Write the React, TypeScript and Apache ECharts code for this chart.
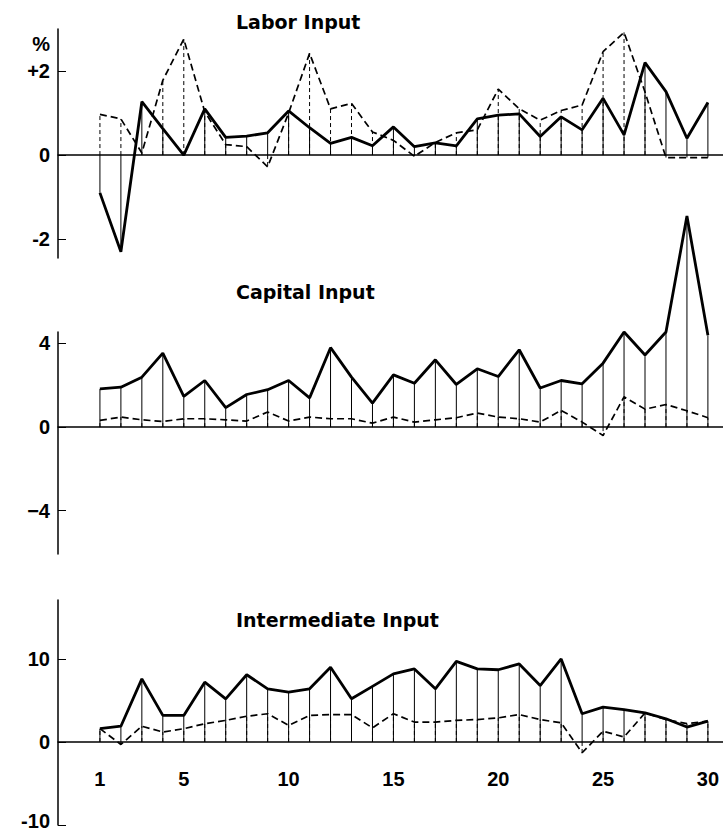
import React, { useEffect, useRef } from "react";
import * as echarts from "echarts";

const years = [1, 2, 3, 4, 5, 6, 7, 8, 9, 10, 11, 12, 13, 14, 15, 16, 17, 18, 19, 20, 21, 22, 23, 24, 25, 26, 27, 28, 29, 30];
const xTickLabels = [1, 5, 10, 15, 20, 25, 30];

const laborSolid = [-0.9, -2.3, 1.27, 0.63, 0.0, 1.1, 0.42, 0.45, 0.53, 1.05, 0.65, 0.28, 0.42, 0.22, 0.67, 0.2, 0.29, 0.22, 0.86, 0.95, 0.98, 0.44, 0.91, 0.6, 1.35, 0.48, 2.2, 1.51, 0.4, 1.25];
const laborDashed = [0.97, 0.86, 0.05, 1.78, 2.76, 1.03, 0.25, 0.2, -0.28, 1.0, 2.42, 1.1, 1.23, 0.55, 0.35, -0.03, 0.3, 0.53, 0.6, 1.57, 1.1, 0.83, 1.06, 1.19, 2.46, 2.92, 1.5, -0.06, -0.06, -0.06];

const capitalSolid = [1.83, 1.91, 2.39, 3.54, 1.47, 2.23, 0.93, 1.56, 1.79, 2.23, 1.4, 3.8, 2.39, 1.15, 2.5, 2.1, 3.22, 2.04, 2.79, 2.42, 3.7, 1.87, 2.23, 2.07, 3.06, 4.55, 3.45, 4.55, 10.1, 4.39];
const capitalDashed = [0.32, 0.48, 0.35, 0.27, 0.4, 0.4, 0.35, 0.29, 0.72, 0.29, 0.48, 0.4, 0.4, 0.19, 0.48, 0.24, 0.35, 0.45, 0.67, 0.48, 0.4, 0.24, 0.8, 0.24, -0.4, 1.45, 0.86, 1.08, 0.78, 0.45];

const interSolid = [1.6, 1.9, 7.6, 3.2, 3.2, 7.2, 5.2, 8.1, 6.4, 6.0, 6.4, 9.0, 5.2, 6.7, 8.2, 8.8, 6.4, 9.7, 8.8, 8.7, 9.4, 6.8, 10.0, 3.4, 4.2, 3.9, 3.5, 2.8, 1.8, 2.5];
const interDashed = [1.6, -0.3, 1.9, 1.2, 1.6, 2.2, 2.6, 3.1, 3.4, 2.0, 3.2, 3.3, 3.3, 1.7, 3.4, 2.4, 2.4, 2.6, 2.7, 2.9, 3.3, 2.7, 2.3, -1.3, 1.3, 0.6, 3.5, 2.7, 2.2, 2.5];

const laborTicks = [-2, 0, 2];
const capitalTicks = [-4, 0, 4];
const interTicks = [-10, 0, 10];

const titles = ["Labor Input", "Capital Input", "Intermediate Input"];

const labelFont = {
  fontFamily: "Liberation Sans",
  fontWeight: "bold" as const,
  fontSize: 20,
  color: "#000",
};

export default function App() {
  const ref = useRef<HTMLDivElement>(null);

  useEffect(() => {
    if (!ref.current) return;
    const chart = echarts.init(ref.current, undefined, { renderer: "svg" });

    const panels = [
      { solid: laborSolid, dashed: laborDashed, ticks: laborTicks, min: -2.45, max: 3.0, top: 29, height: 229, fmt: (v: number) => (v > 0 ? "+" + v : v < 0 ? "-" + Math.abs(v) : "0") },
      { solid: capitalSolid, dashed: capitalDashed, ticks: capitalTicks, min: -6.07, max: 4.55, top: 332, height: 222, fmt: (v: number) => (v < 0 ? "\u2212" + Math.abs(v) : String(v)) },
      { solid: interSolid, dashed: interDashed, ticks: interTicks, min: -10, max: 17.1, top: 600, height: 225, fmt: (v: number) => (v < 0 ? "{low|-" + Math.abs(v) + "}" : String(v)) },
    ];

    const grid = panels.map((p) => ({ left: 58, width: 665, top: p.top, height: p.height, outerBoundsMode: "none", containLabel: false }));

    const xAxis = panels.map((p, i) => {
      const zeroOffset = -(p.height * (0 - p.min)) / (p.max - p.min);
      return {
        type: "value",
        gridIndex: i,
        min: -1,
        max: 30.72,
        position: "bottom",
        offset: zeroOffset,
        splitLine: { show: false },
        axisLine: { show: true, onZero: false, lineStyle: { color: "#000", width: 1.5 } },
        axisTick: { show: false },
        axisLabel:
          i === 2
            ? { show: true, customValues: xTickLabels, margin: 27, ...labelFont }
            : { show: false },
      };
    });

    const yAxis = panels.map((p, i) => ({
      type: "value",
      gridIndex: i,
      min: p.min,
      max: p.max,
      splitLine: { show: false },
      axisLine: { show: true, onZero: false, lineStyle: { color: "#000", width: 1.5 } },
      axisTick: { show: true, inside: true, length: 8, customValues: p.ticks, lineStyle: { color: "#000", width: 1 } },
      axisLabel: {
        show: true,
        customValues: p.ticks,
        margin: 8,
        formatter: p.fmt,
        ...labelFont,
        rich: {
          low: { ...labelFont, padding: [0, 0, 9, 0] },
        },
      },
    }));

    const stemSeries = (vals: number[], i: number, dashed: boolean) => ({
      type: "custom",
      xAxisIndex: i,
      yAxisIndex: i,
      clip: false,
      silent: true,
      data: years.map((x, k) => [x, vals[k]]),
      encode: { x: 0, y: 1 },
      renderItem: (params: any, api: any) => {
        const x = api.value(0);
        const v = api.value(1);
        const p0 = api.coord([x, 0]);
        const p1 = api.coord([x, v]);
        return {
          type: "line",
          shape: { x1: p0[0], y1: p0[1], x2: p1[0], y2: p1[1] },
          style: { stroke: "#000", lineWidth: 1, lineDash: dashed ? [4, 3] : null },
        };
      },
    });

    const series: any[] = [];
    panels.forEach((p, i) => {
      series.push(stemSeries(p.solid, i, false));
      series.push(stemSeries(p.dashed, i, true));
      series.push({
        type: "line",
        xAxisIndex: i,
        yAxisIndex: i,
        clip: false,
        symbol: "none",
        data: years.map((x, k) => [x, p.dashed[k]]),
        lineStyle: { color: "#000", width: 1.7, type: [7, 4] },
      });
      series.push({
        type: "line",
        xAxisIndex: i,
        yAxisIndex: i,
        clip: false,
        symbol: "none",
        data: years.map((x, k) => [x, p.solid[k]]),
        lineStyle: { color: "#000", width: 2.8 },
      });
    });

    const titleY = [22, 292, 620];
    const graphic: any[] = titles.map((t, i) => ({
      type: "text",
      x: 236,
      y: titleY[i],
      style: {
        text: t,
        fontFamily: "DejaVu Sans",
        fontWeight: "bold",
        fontSize: 19,
        fill: "#000",
        textAlign: "left",
        textVerticalAlign: "middle",
      },
    }));
    graphic.push({
      type: "text",
      x: 50,
      y: 44,
      style: {
        text: "%",
        fontFamily: "Liberation Sans",
        fontWeight: "bold",
        fontSize: 20,
        fill: "#000",
        textAlign: "right",
        textVerticalAlign: "middle",
      },
    });

    chart.setOption({
      animation: false,
      backgroundColor: "#fff",
      grid,
      xAxis,
      yAxis,
      series,
      graphic,
    });

    return () => chart.dispose();
  }, []);

  return (
    <div
      ref={ref}
      style={{ position: "fixed", left: 0, top: 0, width: 723, height: 832, background: "#fff" }}
    />
  );
}
